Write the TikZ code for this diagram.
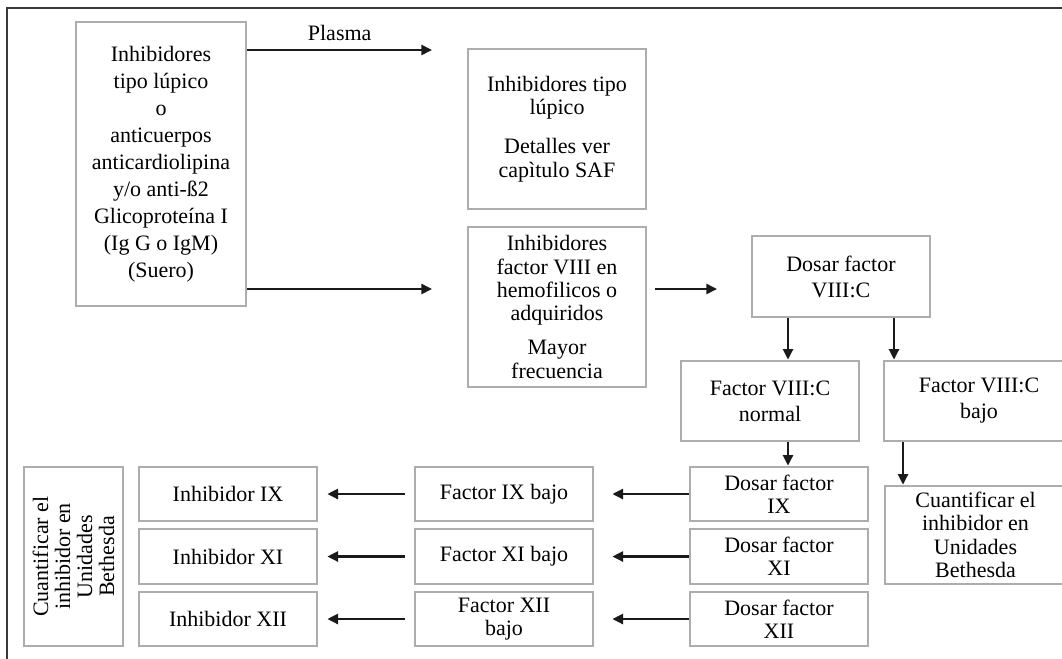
\documentclass[tikz,border=0pt]{standalone}
\usepackage{fontspec}
\setmainfont{Liberation Serif}
\usetikzlibrary{arrows.meta}
\definecolor{boxgray}{HTML}{ADADAD}
\definecolor{inkgray}{HTML}{1A1A1A}
\definecolor{framegray}{HTML}{3A3A3A}

\begin{document}
\begin{tikzpicture}[x=0.75pt,y=-0.75pt,
  box/.style={draw=boxgray, line width=2pt, align=center, inner sep=0pt,
              font=\fontsize{16.5}{17.5}\selectfont, text=black},
  sz/.style 2 args={minimum width=#1*0.75pt, minimum height=#2*0.75pt},
  wide/.style={font=\fontsize{16.5}{19.5}\selectfont},
  arr/.style={draw=inkgray, line width=1.9pt, -{Triangle[length=8pt,width=7.5pt]}},
  frame/.style={draw=framegray, line width=1.6pt}]
\useasboundingbox (0,0) rectangle (1062,658);
\clip (0,0) rectangle (1062,658);

% outer frame (top and left rules)
\draw[frame] (7,662) -- (7,8) -- (1066,8);

% first column
\node[box, sz={170}{284}, font=\fontsize{16.5}{20.3}\selectfont] (A) at (161,164)
  {Inhibidores\\tipo lúpico\\o\\anticuerpos\\anticardiolipina\\y/o anti-ß2\\Glicoproteína I\\(Ig G o IgM)\\(Suero)};

% second column
\node[box, sz={178}{160}] (B) at (557,129)
  {Inhibidores tipo\\lúpico\\[12pt]Detalles ver\\capìtulo SAF};
\node[box, sz={178}{160}] (C) at (557,307)
  {Inhibidores\\factor VIII en\\hemofilicos o\\adquiridos\\[8pt]Mayor\\frecuencia};

% factor VIII branch
\node[box, wide, sz={178}{81}] (D) at (841,276.5) {Dosar factor\\VIII:C};
\node[box, wide, sz={178}{80}] (E) at (770,401) {Factor VIII:C\\normal};
\node[box, wide, sz={190}{80}] (F) at (979,401) {Factor VIII:C\\bajo};
\node[box, sz={181}{98}] (G) at (975.5,535) {Cuantificar el\\inhibidor en\\Unidades\\Bethesda};

% dosage row
\node[box, sz={178}{54}] (d9)  at (779,494)   {Dosar factor\\IX};
\node[box, sz={178}{55}] (d11) at (779,556.5) {Dosar factor\\XI};
\node[box, sz={178}{54}] (d12) at (779,619)   {Dosar factor\\XII};

\node[box, sz={178}{54}] (f9)  at (504,494)   {Factor IX bajo};
\node[box, sz={178}{55}] (f11) at (504,556.5) {Factor XI bajo};
\node[box, sz={178}{54}] (f12) at (504,619)   {Factor XII\\bajo};

\node[box, sz={178}{54}] (i9)  at (228,494)   {Inhibidor IX};
\node[box, sz={178}{55}] (i11) at (228,556.5) {Inhibidor XI};
\node[box, sz={178}{54}] (i12) at (228,619)   {Inhibidor XII};

\node[box, rotate=90, sz={179}{99}, font=\fontsize{16.5}{16.5}\selectfont] (L) at (73.5,556.5)
  {Cuantificar el\\inhibidor en\\Unidades\\Bethesda};

% free arrow ends and vertical arrow columns
\coordinate (pT) at (432,50);
\coordinate (pB) at (432,289);
\coordinate (c1) at (655,289);
\coordinate (c2) at (717,289);
\coordinate (k1) at (788,0);
\coordinate (k2) at (894,0);
\coordinate (k3) at (903,0);

% connectors
\draw[arr] (A.east |- pT) -- node[above=3pt, font=\fontsize{16.5}{17}\selectfont] {Plasma} (pT);
\draw[arr] (A.east |- pB) -- (pB);
\draw[arr] (c1) -- (c2);
\draw[arr] (D.south -| k1) -- (E.north -| k1);
\draw[arr] (D.south -| k2) -- (F.north -| k2);
\draw[arr] (E.south -| k1) -- (d9.north -| k1);
\draw[arr] (F.south -| k3) -- (G.north -| k3);

\draw[arr] (d9.west)  -- ([xshift=13.5pt]f9.east);
\draw[arr] (d11.west) -- ([xshift=13.5pt]f11.east);
\draw[arr] (d12.west) -- ([xshift=13.5pt]f12.east);

\draw[arr] ([xshift=-6.75pt]f9.west)  -- ([xshift=6.75pt]i9.east);
\draw[arr] ([xshift=-6.75pt]f11.west) -- ([xshift=6.75pt]i11.east);
\draw[arr] ([xshift=-6.75pt]f12.west) -- ([xshift=6.75pt]i12.east);
\end{tikzpicture}
\end{document}
